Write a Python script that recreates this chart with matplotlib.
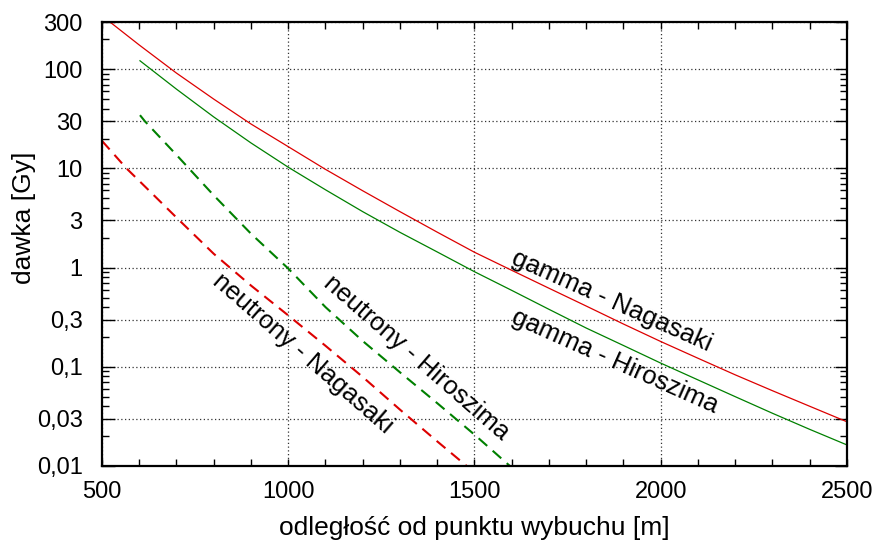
import matplotlib
matplotlib.use("Agg")
import matplotlib.pyplot as plt
from matplotlib.ticker import FixedLocator, NullFormatter, MultipleLocator, FixedFormatter

plt.rcParams['font.family'] = ['Liberation Sans', 'DejaVu Sans']

# ---- data ----
x_gamma_nag = [500, 600, 700, 800, 900, 1000, 1100, 1200, 1300, 1400, 1500, 1600, 1700,
               1800, 1900, 2000, 2100, 2200, 2300, 2400, 2500]
y_gamma_nag = [347, 176, 91.6, 50.1, 28.1, 16.6, 9.8, 5.96, 3.67, 2.28, 1.43, 0.94, 0.62,
               0.41, 0.27, 0.18, 0.122, 0.083, 0.0574, 0.040, 0.0279]

x_gamma_hir = [602, 700, 800, 900, 1000, 1100, 1200, 1300, 1400, 1500, 1600, 1700,
               1800, 1900, 2000, 2100, 2200, 2300, 2400, 2500]
y_gamma_hir = [122, 63.1, 33.1, 18.1, 10.3, 6.1, 3.67, 2.27, 1.44, 0.91, 0.59, 0.38,
               0.246, 0.164, 0.109, 0.0738, 0.050, 0.034, 0.0234, 0.0163]

x_neut_hir = [602, 615, 700, 800, 900, 1000, 1100, 1200, 1300, 1400, 1500, 1595]
y_neut_hir = [34.5, 30.0, 13.7, 5.36, 2.2, 0.98, 0.40, 0.182, 0.088, 0.043, 0.0207, 0.010]

x_neut_nag = [500, 566, 600, 700, 800, 900, 1000, 1100, 1200, 1300, 1400, 1479]
y_neut_nag = [19.0, 10.0, 7.5, 3.2, 1.38, 0.66, 0.33, 0.163, 0.079, 0.037, 0.0177, 0.010]

y_major = [0.01, 0.03, 0.1, 0.3, 1, 3, 10, 30, 100, 300]
y_major_labels = ["0,01", "0,03", "0,1", "0,3", "1", "3", "10", "30", "100", "300"]
x_major = [500, 1000, 1500, 2000, 2500]

labels = ["gamma - Nagasaki", "gamma - Hiroszima", "neutrony - Hiroszima", "neutrony - Nagasaki"]

RED = '#dd0000'
GREEN = '#008000'

fig = plt.figure(figsize=(8.83, 5.45), dpi=100)
ax = fig.add_axes([0.1155, 0.145, 0.9592 - 0.1155, 0.9596 - 0.145])

ax.plot(x_gamma_nag, y_gamma_nag, color=RED, lw=0.9, solid_joinstyle='round')
ax.plot(x_gamma_hir, y_gamma_hir, color=GREEN, lw=0.9, solid_joinstyle='round')
ax.plot(x_neut_hir, y_neut_hir, color=GREEN, lw=1.5, dashes=(5.5, 3.5))
ax.plot(x_neut_nag, y_neut_nag, color=RED, lw=1.5, dashes=(5.5, 3.5))

ax.set_yscale('log')
ax.set_xlim(500, 2500)
ax.set_ylim(0.01, 300)

ax.yaxis.set_major_locator(FixedLocator(y_major))
ax.yaxis.set_major_formatter(FixedFormatter(y_major_labels))
minors = []
for dec in [0.01, 0.1, 1, 10, 100]:
    for m in [2, 4, 5, 6, 7, 8, 9]:
        v = dec * m
        if v < 300:
            minors.append(v)
ax.yaxis.set_minor_locator(FixedLocator(minors))
ax.yaxis.set_minor_formatter(NullFormatter())

ax.xaxis.set_major_locator(FixedLocator(x_major))
ax.xaxis.set_minor_locator(MultipleLocator(100))

ax.tick_params(axis='both', which='both', direction='in', top=True, right=True,
               labelsize=17, colors='black', width=1.0)
ax.tick_params(axis='y', which='major', length=9, pad=14)
ax.tick_params(axis='y', which='minor', length=5)
ax.tick_params(axis='x', which='major', length=5, pad=11)
ax.tick_params(axis='x', which='minor', length=5)

ax.grid(True, which='major', color='#333333', linestyle=(0, (1, 2)), lw=0.9)

for s in ax.spines.values():
    s.set_linewidth(1.6)

ax.set_xlabel("odległość od punktu wybuchu [m]", fontsize=19, labelpad=9)
ax.set_ylabel("dawka [Gy]", fontsize=19)
ax.yaxis.set_label_coords(-0.088, 0.559)

ax.text(1868, 0.46, labels[0], fontsize=18.5, rotation=-24, ha='center', va='center')
ax.text(1877, 0.113, labels[1], fontsize=18.5, rotation=-24, ha='center', va='center')
ax.text(1344, 0.123, labels[2], fontsize=18.5, rotation=-41, ha='center', va='center')
ax.text(1040, 0.135, labels[3], fontsize=18.5, rotation=-41, ha='center', va='center')

fig.savefig("out.png", dpi=100)
